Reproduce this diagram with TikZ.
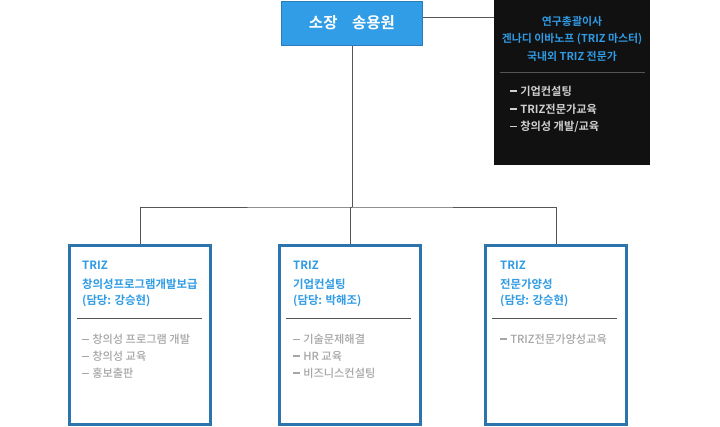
\documentclass[tikz,border=0pt]{standalone}
\usepackage{fontspec}
\setmainfont{Noto Sans CJK KR}[BoldFont={Noto Sans CJK KR Bold}]
\newfontfamily\krmed{Noto Sans CJK KR Medium}
\newcommand\itemdash{\rule[0.3em]{0.6em}{0.12em}\hspace{0.3em}}
\definecolor{topfill}{HTML}{309DE6}
\definecolor{topedge}{HTML}{2A7DBA}
\definecolor{boxedge}{HTML}{2B74AE}
\definecolor{headblue}{HTML}{2F9BE5}
\definecolor{itemgray}{HTML}{A6A6A6}
\definecolor{darkbg}{HTML}{111111}
\definecolor{lightitem}{HTML}{CFCFCF}
\definecolor{linegray}{HTML}{555555}
\begin{document}
\begin{tikzpicture}[x=1pt,y=-1pt,
  conn/.style={draw=linegray,line width=1pt},
  unitbox/.style={draw=boxedge,line width=3pt,fill=white},
  head/.style={anchor=west,inner sep=0pt,text=headblue,font=\fontsize{11.4}{12}\selectfont\bfseries},
  item/.style={anchor=west,inner sep=0pt,text=itemgray,font=\fontsize{11.2}{12}\selectfont\krmed},
  dhead/.style={inner sep=0pt,text=headblue,font=\fontsize{10.9}{12}\selectfont\bfseries},
  ditem/.style={anchor=west,inner sep=0pt,text=lightitem,font=\fontsize{11.2}{12}\selectfont\bfseries},
  sep/.style={draw=linegray,line width=1pt}
]
\useasboundingbox (0,0) rectangle (720,426);
% top box
\node[draw=topedge,line width=1pt,fill=topfill,minimum width=141pt,minimum height=44pt,inner sep=0pt,
  text=white,font=\fontsize{15.5}{17}\selectfont\bfseries] (top) at (352,23) {소장\hspace{0.95em}송용원};
% black box
\fill[darkbg] (494,0) rectangle (650,165);
\node[inner sep=0pt,minimum width=156pt,minimum height=165pt] (black) at (572,82.5) {};
\node[dhead] (b1) at (572,21) {연구총괄이사};
\node[dhead] (b2) at (572,39) {겐나디 이바노프 (TRIZ 마스터)};
\node[dhead] (b3) at (572,56) {국내외 TRIZ 전문가};
\draw[draw=linegray,line width=1pt] (500,72) -- (645,72);
\node[ditem] (bi1) at (510,91) {\itemdash 기업컨설팅};
\node[ditem] (bi2) at (510,109) {\itemdash TRIZ전문가교육};
\node[ditem] (bi3) at (510,127) {\itemdash 창의성 개발/교육};
% connector top -> black
\coordinate (tr) at (top.east |- 0,17);
\draw[conn] (tr) -- (tr -| black.west);
% bottom boxes
\node[unitbox,minimum width=141pt,minimum height=179pt,inner sep=0pt] (u1) at (140,335) {};
\node[unitbox,minimum width=141pt,minimum height=179pt,inner sep=0pt] (u2) at (350,335) {};
\node[unitbox,minimum width=141pt,minimum height=179pt,inner sep=0pt] (u3) at (556,335) {};
% connectors
\coordinate (hub) at (top.south |- 0,207);
\draw[conn] (top.south) -- (hub);
\draw[conn] (u1.north) |- (hub) -| (u3.north);
\draw[conn] (hub) -| (u2.north);
% box 1 text
\node[head] at (82,265) {TRIZ};
\node[head] at (82,284) {창의성프로그램개발보급};
\node[head] at (82,301) {(담당: 강승현)};
\draw[sep] (77,318) -- (202,318);
\node[item] at (82,339) {\itemdash 창의성 프로그램 개발};
\node[item] at (82,356) {\itemdash 창의성 교육};
\node[item] at (82,373) {\itemdash 홍보출판};
% box 2 text
\node[head] at (293,265) {TRIZ};
\node[head] at (293,284) {기업컨설팅};
\node[head] at (293,301) {(담당: 박해조)};
\draw[sep] (286,318) -- (411,318);
\node[item] at (293,339) {\itemdash 기술문제해결};
\node[item] at (293,356) {\itemdash HR 교육};
\node[item] at (293,373) {\itemdash 비즈니스컨설팅};
% box 3 text
\node[head] at (500,265) {TRIZ};
\node[head] at (500,284) {전문가양성};
\node[head] at (500,301) {(담당: 강승현)};
\draw[sep] (492,318) -- (617,318);
\node[item] at (500,339) {\itemdash TRIZ전문가양성교육};
\end{tikzpicture}
\end{document}
